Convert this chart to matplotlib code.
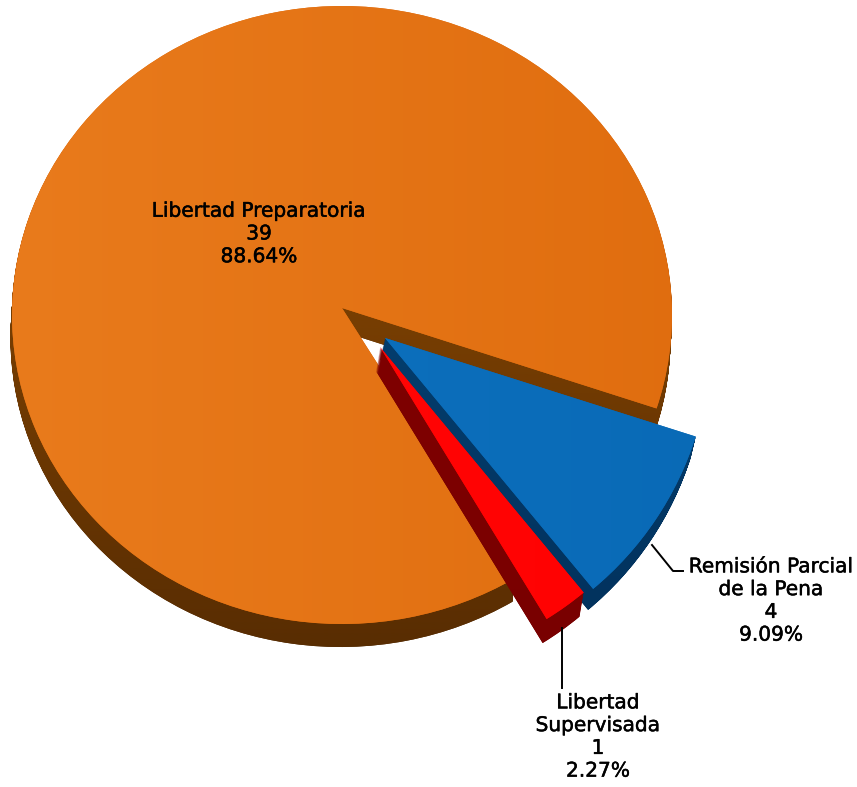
import numpy as np
import matplotlib
matplotlib.use('Agg')
import matplotlib.pyplot as plt
import matplotlib.patheffects as pe
from matplotlib.colors import to_rgb
from matplotlib.patches import PathPatch
from matplotlib.path import Path
from matplotlib.transforms import Affine2D

# datos del grafico
categorias = ['Libertad Preparatoria', 'Libertad Supervisada', 'Remisión Parcial de la Pena']
valores = [39, 1, 4]
porcentajes = ['88.64%', '2.27%', '9.09%']

# colores: cara superior (izq, der) y lado (arriba, abajo)
cara_izq = ['#E97B1C', '#FF0808', '#0F74C2']
cara_der = ['#DE6A0C', '#FF0000', '#0868B4']
lado_sup = ['#944E02', '#860000', '#054A80']
lado_inf = ['#4C2602', '#760000', '#022C54']

W, H = 857, 787
# cada rebanada: centro en pixeles, radios, desplazamiento del lado y orden
centros = [(342, 315), (380, 347), (385, 338)]
radios = [(330, 309), (319, 319), (326, 326)]
lados = [(-1.5, 23), (-4, 24), (-5, 21)]
orden = [0, 2, 1]
punta_naranja = 7
ANGULO = -17.6

plt.rcParams['font.family'] = ['DejaVu Sans']
fig = plt.figure(figsize=(W / 100, H / 100), dpi=100)
ax = fig.add_axes([0, 0, 1, 1])

wedges, _ = ax.pie(valores, startangle=ANGULO, radius=1, center=(0, 0))

# la punta de la rebanada grande queda un poco arriba del centro de la elipse
v = wedges[0].get_path().vertices
v[np.isclose(v, 0).all(axis=1), 1] += punta_naranja / radios[0][1]


def trans(j, dx=0, dy=0):
    cx, cy = centros[j]
    rx, ry = radios[j]
    return Affine2D().scale(rx, ry).translate(cx + dx, H - cy - dy)


def degradado(clip, c0, c1, vertical, z):
    t = np.linspace(0, 1, 256)
    t = t[:, None, None] if vertical else t[None, :, None]
    c0, c1 = np.array(to_rgb(c0)), np.array(to_rgb(c1))
    img = ax.imshow(c0 + (c1 - c0) * t, extent=(0, W, 0, H), origin='upper',
                    aspect='auto', zorder=z, interpolation='bilinear')
    img.set_clip_path(clip)


for j, w in enumerate(wedges):
    z = 2 + 4 * orden[j]
    # lado: capas desplazadas, unidas en una sola figura
    dx, dy = lados[j]
    capas = [trans(j, dx * k / 24, dy * k / 24).transform_path(w.get_path()) for k in range(1, 25)]
    lado = PathPatch(Path.make_compound_path(*capas), facecolor=lado_inf[j], edgecolor='none', zorder=z)
    ax.add_patch(lado)
    degradado(lado, lado_sup[j], lado_inf[j], True, z + 1)
    # cara superior
    w.set_transform(trans(j) + ax.transData)
    w.set_facecolor(cara_der[j])
    w.set_zorder(z + 2)
    degradado(w, cara_izq[j], cara_der[j], False, z + 3)

ax.set_xlim(0, W)
ax.set_ylim(0, H)
ax.set_aspect('auto')
ax.axis('off')


def px(x, y):
    return x / W, 1 - y / H


# lineas guia
fig.add_artist(plt.Line2D(*zip(px(652, 545), px(673, 571), px(683, 571)), color='black', lw=1.4))
fig.add_artist(plt.Line2D(*zip(px(562, 628), px(562, 688)), color='black', lw=1.4))

# etiquetas
fs = 14.5
etiquetas = [
    ((259, 234), f'{categorias[0]}\n{valores[0]}\n{porcentajes[0]}'),
    ((771, 601), f'Remisión Parcial\nde la Pena\n{valores[2]}\n{porcentajes[2]}'),
    ((598, 737), f'Libertad\nSupervisada\n{valores[1]}\n{porcentajes[1]}'),
]
for (x, y), texto in etiquetas:
    fx, fy = px(x, y)
    t = fig.text(fx, fy, texto, ha='center', va='center', fontsize=fs, linespacing=1.25, color='black')
    t.set_path_effects([pe.withStroke(linewidth=0.35, foreground='black')])

fig.savefig('out.png', dpi=100)
